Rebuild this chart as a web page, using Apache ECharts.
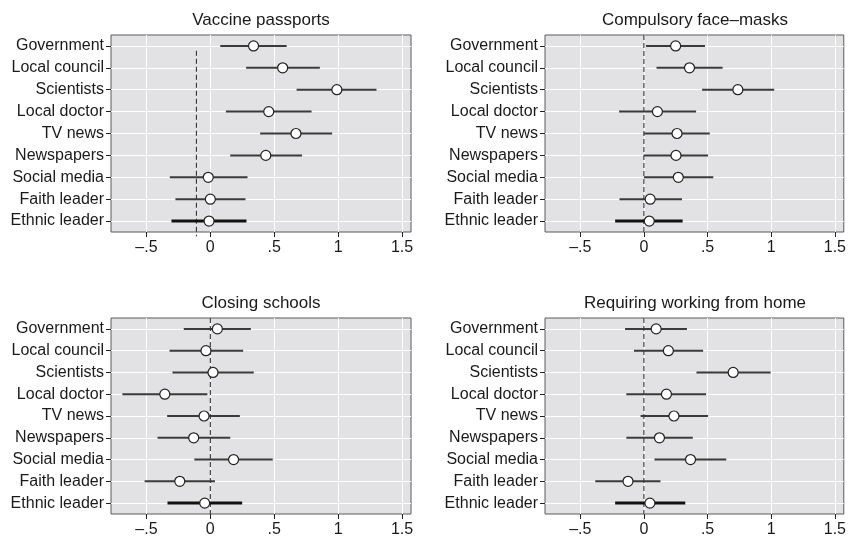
<!DOCTYPE html>
<html><head><meta charset="utf-8">
<script src="https://cdn.jsdelivr.net/npm/echarts@6/dist/echarts.min.js"></script>
<style>html,body{margin:0;padding:0;background:#fff}#c{width:849px;height:538px}</style>
</head><body><div id="c"></div>
<script>
const categories = ['Government','Local council','Scientists','Local doctor','TV news','Newspapers','Social media','Faith leader','Ethnic leader'];
const panelTitles = ['Vaccine passports','Compulsory face\u2013masks','Closing schools','Requiring working from home'];
const tickValues = [-0.5, 0, 0.5, 1, 1.5];
const tickLabels = ['\u2013.5', '0', '.5', '1', '1.5'];

const vaccineEst = [0.338, 0.566, 0.990, 0.457, 0.670, 0.434, -0.016, 0.000, -0.010];
const vaccineLo  = [0.078, 0.280, 0.675, 0.122, 0.390, 0.156, -0.317, -0.273, -0.304];
const vaccineHi  = [0.597, 0.857, 1.300, 0.792, 0.953, 0.717, 0.291, 0.275, 0.283];

const masksEst = [0.249, 0.358, 0.738, 0.106, 0.260, 0.252, 0.270, 0.049, 0.042];
const masksLo  = [0.016, 0.099, 0.457, -0.195, 0.000, 0.000, 0.000, -0.192, -0.226];
const masksHi  = [0.480, 0.618, 1.023, 0.410, 0.517, 0.504, 0.545, 0.299, 0.304];

const schoolsEst = [0.055, -0.034, 0.021, -0.356, -0.049, -0.130, 0.182, -0.239, -0.044];
const schoolsLo  = [-0.208, -0.319, -0.296, -0.688, -0.338, -0.413, -0.125, -0.514, -0.335];
const schoolsHi  = [0.317, 0.257, 0.340, -0.023, 0.231, 0.156, 0.488, 0.036, 0.249];

const homeEst = [0.096, 0.192, 0.701, 0.177, 0.236, 0.122, 0.366, -0.125, 0.047];
const homeLo  = [-0.148, -0.078, 0.413, -0.138, -0.026, -0.138, 0.083, -0.382, -0.226];
const homeHi  = [0.338, 0.465, 0.995, 0.488, 0.504, 0.384, 0.647, 0.130, 0.325];

// reference (dashed) line x value and its vertical extent in row units (0 = first row)
const refLineX = [-0.109, 0, 0, 0];
const refLineFrom = [0.22, -0.5, -0.5, -0.5];
const refLineTo = [8.7, 8.5, 8.5, 8.5];

const panels = [
  [vaccineEst, vaccineLo, vaccineHi],
  [masksEst, masksLo, masksHi],
  [schoolsEst, schoolsLo, schoolsHi],
  [homeEst, homeLo, homeHi]
];

const FONT = '"Liberation Sans", Arial, Helvetica, sans-serif';
const gridPos = [
  {left: 111, top: 35, width: 300, height: 197},
  {left: 545, top: 35, width: 300, height: 197},
  {left: 111, top: 318, width: 300, height: 196},
  {left: 545, top: 318, width: 300, height: 196}
];
const titlePos = [[261, 12], [695, 12], [261, 295], [695, 295]];

const option = {
  backgroundColor: '#fff',
  animation: false,
  title: panelTitles.map((t, i) => ({
    text: t, left: titlePos[i][0], top: titlePos[i][1], textAlign: 'center', padding: 0,
    textStyle: {fontFamily: FONT, fontSize: 17, fontWeight: 'normal', color: '#1a1a1a'}
  })),
  grid: gridPos.map(g => Object.assign({show: true, backgroundColor: '#e2e2e4', borderColor: '#5a5a5a', borderWidth: 1, containLabel: false}, g)),
  xAxis: gridPos.map((g, i) => ({
    type: 'value', gridIndex: i, min: -0.777, max: 1.57,
    axisLine: {show: false, onZero: false},
    splitLine: {show: false},
    axisTick: {show: true, customValues: tickValues, length: 5, lineStyle: {color: '#222', width: 1}},
    axisLabel: {customValues: tickValues, fontFamily: FONT, fontSize: 16, color: '#1a1a1a', margin: 8,
      formatter: v => { const k = tickValues.findIndex(t => Math.abs(t - v) < 1e-9); return k >= 0 ? tickLabels[k] : ''; }}
  })),
  yAxis: gridPos.map((g, i) => ({
    type: 'category', gridIndex: i, data: categories, inverse: true, boundaryGap: true,
    axisLine: {show: false, onZero: false},
    axisTick: {show: true, alignWithLabel: true, interval: 0, length: 5, lineStyle: {color: '#222', width: 1}},
    axisLabel: {interval: 0, fontFamily: FONT, fontSize: 16, color: '#1a1a1a', margin: 7},
    splitLine: {show: false}
  })),
  series: []
};

panels.forEach((p, i) => {
  const [est, lo, hi] = p;
  option.series.push({
    type: 'scatter', xAxisIndex: i, yAxisIndex: i, data: [], z: 1, silent: true,
    markLine: {silent: true, z: 1, symbol: 'none', label: {show: false},
      lineStyle: {color: '#ffffff', width: 1, type: 'solid'},
      data: tickValues.map(v => ({xAxis: v})).concat(categories.map((c, j) => ({yAxis: j})))}
  });
  option.series.push({
    type: 'custom', xAxisIndex: i, yAxisIndex: i, z: 6, silent: true, clip: false,
    data: [[refLineX[i], refLineFrom[i], refLineTo[i]]],
    encode: {x: 0},
    renderItem: (params, api) => {
      const x = api.value(0);
      const a = api.coord([x, 0]);
      const b = api.coord([x, 1]);
      const step = b[1] - a[1];
      return {type: 'line', shape: {x1: a[0], y1: a[1] + api.value(1) * step, x2: a[0], y2: a[1] + api.value(2) * step},
        style: {stroke: '#222', lineWidth: 1, lineDash: [5, 3]}};
    }
  });
  option.series.push({
    type: 'custom', xAxisIndex: i, yAxisIndex: i, z: 7, silent: true,
    data: categories.map((c, j) => [lo[j], hi[j], j]),
    encode: {x: [0, 1], y: 2},
    renderItem: (params, api) => {
      const j = api.value(2);
      const p1 = api.coord([api.value(0), j]);
      const p2 = api.coord([api.value(1), j]);
      const last = j === categories.length - 1;
      return {type: 'line', shape: {x1: p1[0], y1: p1[1], x2: p2[0], y2: p2[1]},
        style: {stroke: last ? '#111' : '#3a3a3a', lineWidth: last ? 3 : 2}};
    }
  });
  option.series.push({
    type: 'scatter', xAxisIndex: i, yAxisIndex: i, z: 8, silent: true,
    symbol: 'circle', symbolSize: 10,
    itemStyle: {color: '#ffffff', borderColor: '#222', borderWidth: 1.2, opacity: 1},
    data: est.map((v, j) => [v, categories[j]])
  });
});

const chart = echarts.init(document.getElementById('c'), null, {renderer: 'canvas'});
chart.setOption(option);
</script>
</body></html>
